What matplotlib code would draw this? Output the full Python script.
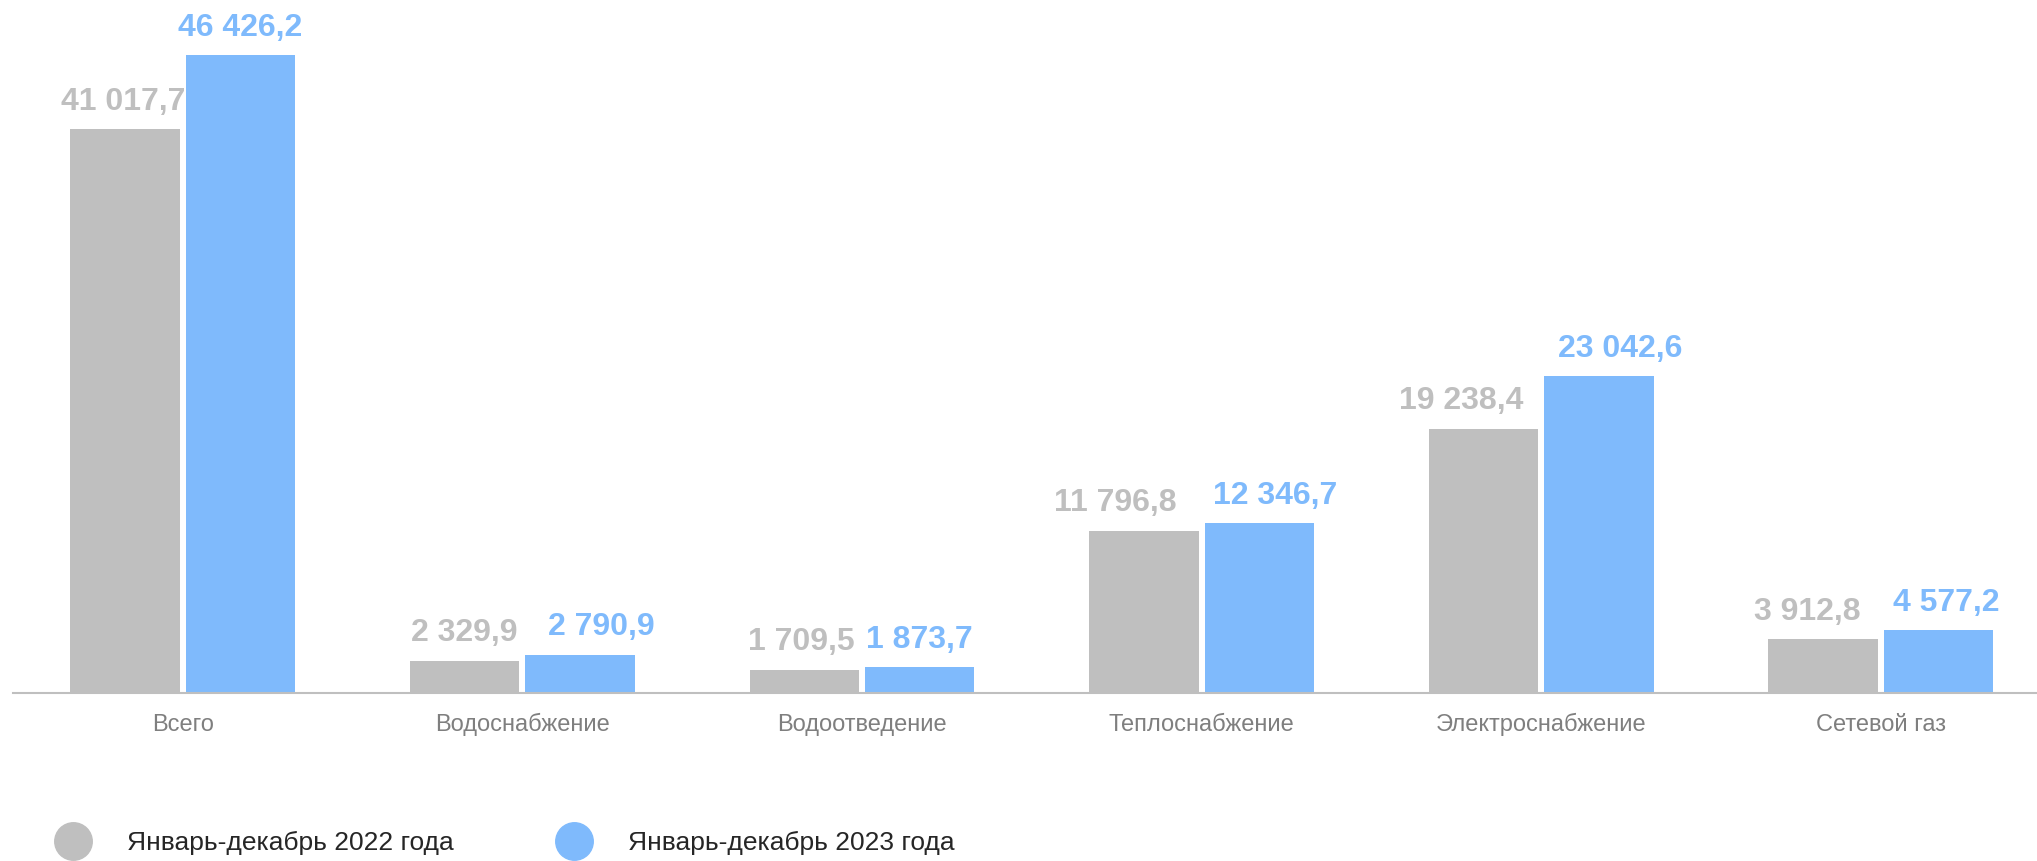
import numpy as np
import matplotlib
matplotlib.use('Agg')
import matplotlib.pyplot as plt
from matplotlib.lines import Line2D

plt.rcParams['font.family'] = ['Liberation Sans', 'DejaVu Sans']

# данные
categories = ['Всего', 'Водоснабжение', 'Водоотведение', 'Теплоснабжение',
              'Электроснабжение', 'Сетевой газ']
values_2022 = [41017.7, 2329.9, 1709.5, 11796.8, 19238.4, 3912.8]
values_2023 = [46426.2, 2790.9, 1873.7, 12346.7, 23042.6, 4577.2]
series_names = ['Январь-декабрь 2022 года', 'Январь-декабрь 2023 года']

# сдвиг подписей по горизонтали (px), чтобы не наезжали друг на друга
nudge_2022 = [-2, 0, -3, -29, -22, -16]
nudge_2023 = [0, 21, 0, 16, 21, 8]

GRAY = '#BFBFBF'
BLUE = '#7FBAFC'


def fmt(v):
    """41017.7 -> '41 017,7'"""
    s = f'{v:,.1f}'
    return s.replace(',', ' ').replace('.', ',')


fig = plt.figure(figsize=(20.37, 8.61), dpi=100)
ax = fig.add_axes([13 / 2037, 1 - 693 / 861, 1 - 13 / 2037, 693 / 861])

x = np.arange(len(categories))
off = 0.17
w = 0.322

bars1 = ax.bar(x - off, values_2022, width=w, color=GRAY)
bars2 = ax.bar(x + off, values_2023, width=w, color=BLUE)

for bars, vals, nud, col in [(bars1, values_2022, nudge_2022, GRAY),
                             (bars2, values_2023, nudge_2023, BLUE)]:
    for b, v, dx in zip(bars, vals, nud):
        ax.annotate(fmt(v), (b.get_x() + b.get_width() / 2, v),
                    xytext=(dx * 0.72, 9), textcoords='offset points',
                    ha='center', va='bottom', fontsize=23,
                    fontweight='bold', color=col)

ax.set_xlim(-0.5, 5.46)
ax.set_ylim(0, 50430)
ax.set_xticks(x, categories)
ax.tick_params(axis='x', length=0, pad=27.4, labelsize=17, labelcolor='#7F7F7F')
for lbl in ax.get_xticklabels():
    lbl.set_verticalalignment('baseline')
ax.set_yticks([])
for s in ['top', 'right', 'left']:
    ax.spines[s].set_visible(False)
ax.spines['bottom'].set_color(GRAY)
ax.spines['bottom'].set_linewidth(1.5)

# легенда
handles = [Line2D([], [], marker='o', linestyle='none', markersize=27,
                  markerfacecolor=c, markeredgecolor=c) for c in (GRAY, BLUE)]
fig.legend(handles, series_names, loc='center left',
           bbox_to_anchor=(0.0145, 0.021), ncol=2, frameon=False,
           fontsize=19, handlelength=1.5, handletextpad=1.3,
           columnspacing=3.8, labelcolor='#262626')

plt.savefig('out.png', dpi=100)
